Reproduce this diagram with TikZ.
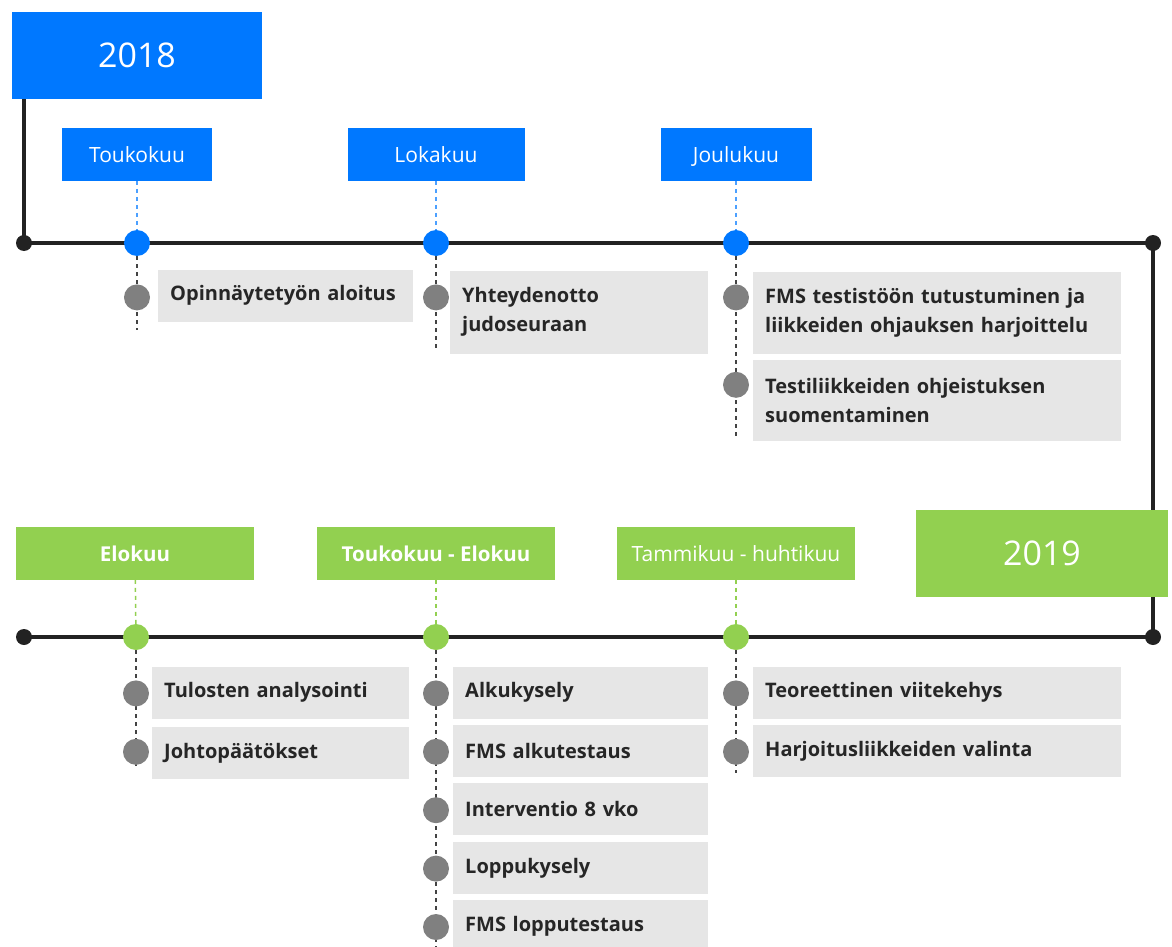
\documentclass[tikz,border=0pt]{standalone}
\usepackage{fontspec}
\setmainfont{Open Sans}
\usetikzlibrary{positioning,backgrounds}
\definecolor{tlblue}{RGB}{0,120,255}
\definecolor{tlgreen}{RGB}{146,208,80}
\definecolor{tlgray}{RGB}{230,230,230}
\definecolor{tldot}{RGB}{128,128,128}
\definecolor{tlline}{RGB}{34,34,34}
\definecolor{tltext}{RGB}{38,38,38}

\begin{document}
\begin{tikzpicture}
[x=1pt,y=1pt,
yearbox/.style={inner sep=0pt, minimum height=87pt, text=white, font=\fontsize{34}{40}\selectfont},
monthbox/.style={inner sep=0pt, minimum height=53pt, text height=20pt, text depth=4pt, text=white, font=\fontsize{21}{24}\selectfont},
evdot/.style={circle, inner sep=0pt, minimum size=26pt},
enddot/.style={circle, fill=tlline, inner sep=0pt, minimum size=16pt},
itemdot/.style={circle, fill=tldot, inner sep=0pt, minimum size=26pt},
itembox/.style={fill=tlgray, anchor=north west, inner xsep=12pt, inner ysep=0pt,
  minimum height=52pt, text width=#1, align=left, text=tltext,
  font=\fontsize{20}{29}\selectfont\bfseries},
axis/.style={draw=tlline, line width=3.5pt},
stem/.style={dashed, dash pattern=on 4pt off 4pt, line width=1.5pt}]
\useasboundingbox (0,0) rectangle (1172,-947);

% 2018
\node[yearbox, fill=tlblue, minimum width=250pt] (y18) at (137,-55.5) {2018};
\node[enddot] (a1) at (24,-243) {};
\node[enddot] (a2) at (1153,-243) {};

\node[evdot, fill=tlblue] (e1) at (137,-243) {};
\node[evdot, fill=tlblue] (e2) at (436,-243) {};
\node[evdot, fill=tlblue] (e3) at (736,-243) {};

\node[monthbox, fill=tlblue, minimum width=150pt, above=49pt of e1] (m1) {Toukokuu};
\node[monthbox, fill=tlblue, minimum width=177pt, above=49pt of e2] (m2) {Lokakuu};
\node[monthbox, fill=tlblue, minimum width=151pt, above=49pt of e3] (m3) {Joulukuu};

\node[itemdot, below=28pt of e1] (i11) {};
\node[itembox=231pt] (t11) at ([xshift=21pt,yshift=28pt]i11.center) {Opinnäytetyön aloitus};

\node[itemdot, below=28pt of e2] (i21) {};
\node[itembox=234pt, minimum height=83pt] (t21) at ([xshift=14pt,yshift=27pt]i21.center) {Yhteydenotto\\judoseuraan};

\node[itemdot, below=28pt of e3] (i31) {};
\node[itembox=344pt, minimum height=82pt] (t31) at ([xshift=17pt,yshift=26pt]i31.center) {FMS testistöön tutustuminen ja\\liikkeiden ohjauksen harjoittelu};
\node[itemdot, below=61pt of i31] (i32) {};
\node[itembox=344pt, minimum height=81pt] (t32) at ([xshift=17pt,yshift=25pt]i32.center) {Testiliikkeiden ohjeistuksen\\suomentaminen};

% 2019
\node[yearbox, fill=tlgreen, minimum width=252pt] (y19) at (1042,-553.5) {2019};
\node[enddot] (b1) at (24,-637) {};
\node[enddot] (b2) at (1153,-637) {};

\node[evdot, fill=tlgreen] (f1) at (136,-637) {};
\node[evdot, fill=tlgreen] (f2) at (436,-637) {};
\node[evdot, fill=tlgreen] (f3) at (736,-637) {};

\node[monthbox, fill=tlgreen, minimum width=238pt, font=\fontsize{20.5}{24}\selectfont\bfseries, above=44pt of f1, xshift=-1pt] (n1) {Elokuu};
\node[monthbox, fill=tlgreen, minimum width=238pt, font=\fontsize{20.5}{24}\selectfont\bfseries, above=44pt of f2] (n2) {Toukokuu - Elokuu};
\node[monthbox, fill=tlgreen, minimum width=238pt, above=44pt of f3] (n3) {Tammikuu - huhtikuu};

\node[itemdot, below=30pt of f1] (j11) {};
\node[itembox=233pt] (u11) at ([xshift=16pt,yshift=27pt]j11.center) {Tulosten analysointi};
\node[itemdot, below=32pt of j11] (j12) {};
\node[itembox=233pt] (u12) at ([xshift=16pt,yshift=25pt]j12.center) {Johtopäätökset};

\node[itemdot, below=30pt of f2] (j21) {};
\node[itembox=231pt] (u21) at ([xshift=17pt,yshift=27pt]j21.center) {Alkukysely};
\node[itemdot, below=32pt of j21] (j22) {};
\node[itembox=231pt] (u22) at ([xshift=17pt,yshift=27pt]j22.center) {FMS alkutestaus};
\node[itemdot, below=32pt of j22] (j23) {};
\node[itembox=231pt] (u23) at ([xshift=17pt,yshift=27pt]j23.center) {Interventio 8 vko};
\node[itemdot, below=32pt of j23] (j24) {};
\node[itembox=231pt] (u24) at ([xshift=17pt,yshift=27pt]j24.center) {Loppukysely};
\node[itemdot, below=32pt of j24] (j25) {};
\node[itembox=231pt] (u25) at ([xshift=17pt,yshift=27pt]j25.center) {FMS lopputestaus};

\node[itemdot, below=30pt of f3] (j31) {};
\node[itembox=344pt] (u31) at ([xshift=17pt,yshift=27pt]j31.center) {Teoreettinen viitekehys};
\node[itemdot, below=32pt of j31] (j32) {};
\node[itembox=344pt] (u32) at ([xshift=17pt,yshift=27pt]j32.center) {Harjoitusliikkeiden valinta};

\coordinate (s1) at (137,-330);
\coordinate (s2) at (436,-348);
\coordinate (s3) at (736,-438);
\coordinate (r1) at (136,-770);
\coordinate (r2) at (436,-947);
\coordinate (r3) at (736,-773);

\begin{pgfonlayer}{background}
\draw[axis] (a1.center |- y18.center) -- (a1.center) -- (a2.center) -- (b2.center) -- (b1.center);
\draw[stem, tlblue!70] (m1) -- (e1);
\draw[stem, tlblue!70] (m2) -- (e2);
\draw[stem, tlblue!70] (m3) -- (e3);
\draw[stem, tlgreen] (n1) -- (f1);
\draw[stem, tlgreen] (n2) -- (f2);
\draw[stem, tlgreen] (n3) -- (f3);
\draw[stem, tlline!85] (e1) -- (s1);
\draw[stem, tlline!85] (e2) -- (s2);
\draw[stem, tlline!85] (e3) -- (s3);
\draw[stem, tlline!85] (f1) -- (r1);
\draw[stem, tlline!85] (f2) -- (r2);
\draw[stem, tlline!85] (f3) -- (r3);
\end{pgfonlayer}
\end{tikzpicture}
\end{document}
